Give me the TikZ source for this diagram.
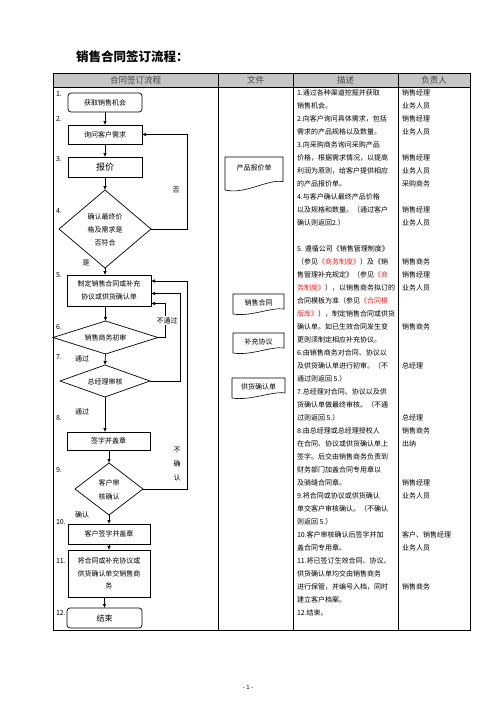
\documentclass[tikz,border=0pt]{standalone}
\usepackage{fontspec}
\setmainfont{Noto Sans CJK SC}
\usetikzlibrary{shapes.geometric,arrows.meta}
\definecolor{redtxt}{RGB}{228,45,45}
\definecolor{hdrfill}{RGB}{198,198,198}
\definecolor{hdrtxt}{RGB}{70,70,70}
\newcommand\docshape[4]{%
  \pgfmathsetmacro\dw{#3-#1}\pgfmathsetmacro\da{0.1*(#4-#2)}%
  \draw[docline] (#1,#2) -- (#3,#2) -- (#3,{#4-2.5*\da})
    .. controls ({#3-0.25*\dw},{#4-3.5*\da}) and ({#1+0.35*\dw},{#4+1.5*\da}) .. (#1,#4) -- cycle;}
\begin{document}
\begin{tikzpicture}[x=1pt,y=-1pt,
  every node/.style={inner sep=0pt, outer sep=0pt},
  ft/.style={font=\fontsize{7}{13}\selectfont},
  box/.style={draw, line width=0.7pt, ft, align=center},
  rbox/.style={box, rounded corners=3pt},
  dia/.style={draw, diamond, line width=0.7pt},
  arr/.style={line width=0.7pt, -{Latex[length=4pt,width=3.6pt]}},
  docline/.style={line width=0.6pt},
  tline/.style={line width=0.8pt},
  hdr/.style={font=\fontsize{8.5}{10}\selectfont, text=hdrtxt},
  num/.style={ft, anchor=west},
  desc/.style={ft, anchor=west},
]
\fill[white] (0,0) rectangle (496,702);
\useasboundingbox (0,0) rectangle (496,702);

% title
\node[anchor=west, font=\fontsize{12.5}{15}\selectfont\bfseries] (title) at (76,57) {销售合同签订流程：};

% table
\fill[hdrfill] (53,73) rectangle (470,87);
\draw[tline] (53,73) rectangle (470,630);
\draw[tline] (53,87) -- (470,87);
\draw[tline] (218,73) -- (218,630);
\draw[tline] (293,73) -- (293,630);
\draw[tline] (398,73) -- (398,630);
\node[hdr] (h1) at (135.5,80) {合同签订流程};
\node[hdr] (h2) at (255.5,80) {文件};
\node[hdr] (h3) at (345.5,80) {描述};
\node[hdr] (h4) at (434,80) {负责人};

% step numbers
\node[num] (s1) at (56,94) {1.};
\node[num] (s2) at (56,119) {2.};
\node[num] (s3) at (56,159) {3.};
\node[num] (s4) at (56,211) {4.};
\node[num] (s5) at (56,275) {5.};
\node[num] (s6) at (56,327) {6.};
\node[num] (s7) at (56,357) {7.};
\node[num] (s8) at (56,418) {8.};
\node[num] (s9) at (56,470) {9.};
\node[num] (s10) at (56,522) {10.};
\node[num] (s11) at (56,561) {11.};
\node[num] (s12) at (56,613) {12.};

% flow nodes
\node[rbox, minimum width=74pt, minimum height=19pt] (n1) at (105,102.5) {获取销售机会};
\node[box, minimum width=74pt, minimum height=19pt] (n2) at (105,134.5) {询问客户需求};
\node[box, minimum width=74pt, minimum height=20pt, font=\fontsize{9}{11}\selectfont] (n3) at (105,167) {报价};
\node[dia, minimum width=92pt, minimum height=78pt] (n4) at (105,229) {};
\node[ft, align=center] (t4) at (105,230) {确认最终价\\格及需求是\\否符合};
\node[box, minimum width=84pt, minimum height=31pt] (n5) at (109,290.5) {制定销售合同或补充\\协议或供货确认单};
\node[dia, minimum width=105pt, minimum height=33pt] (n6) at (105.5,337.5) {};
\node[ft] (t6) at (105.5,338) {销售商务初审};
\node[dia, minimum width=90pt, minimum height=32pt] (n7) at (105,381) {};
\node[ft] (t7) at (105,381.5) {总经理审核};
\node[box, minimum width=83pt, minimum height=18pt] (n8) at (108.5,441) {签字并盖章};
\node[dia, minimum width=68pt, minimum height=52pt] (n9) at (109,489) {};
\node[ft, align=center, font=\fontsize{7}{14}\selectfont] (t9) at (109,490) {客户审\\核确认};
\node[box, minimum width=82pt, minimum height=20pt] (n10) at (109,534) {客户签字并盖章};
\node[box, minimum width=82pt, minimum height=47pt, font=\fontsize{7}{12.5}\selectfont] (n11) at (109,573.5) {将合同或补充协议或\\供货确认单交销售商\\务};
\node[rbox, minimum width=75pt, minimum height=20pt, font=\fontsize{8}{10}\selectfont] (n12) at (104.5,618) {结束};

% main arrows
\draw[arr] (n1.south) -- (n2.north);
\draw[arr] (n2.south) -- (n3.north);
\draw[arr] (n3.south) -- (n4.north);
\draw[arr] (n4.south) -- (n4.south |- n5.north);
\draw[arr] (n6.north |- n5.south) -- (n6.north);
\draw[arr] (n6.south) -- (n7.north);
\draw[arr] (n7.south) -- (n7.south |- n8.north);
\draw[arr] (n9.north |- n8.south) -- (n9.north);
\draw[arr] (n9.south) -- (n10.north);
\draw[arr] (n10.south) -- (n11.north);
\draw[arr] (n12.north |- n11.south) -- (n12.north);

% loops
\coordinate (xa) at (187,0);
\coordinate (xb) at (180.5,0);
\coordinate (xc) at (165,0);
\coordinate (ya) at (0,281);
\coordinate (yb) at (0,293.5);
\coordinate (yc) at (0,303.5);
\draw[arr] (n4.east) -- (n4.east -| xa) -- (xa |- n2.east) -- (n2.east);
\draw[arr] (n9.east) -- (n9.east -| xa) -- (xa |- ya) -- (n5.east |- ya);
\draw[arr] (n7.east) -- (n7.east -| xb) -- (xb |- yb) -- (n5.east |- yb);
\draw[arr] (n6.east) -- (n6.east -| xc) -- (xc |- yc) -- (n5.east |- yc);

% labels
\node[ft] (lno) at (176,190) {否};
\node[ft] (lyes) at (86,263) {是};
\node[ft, fill=white, inner ysep=1.5pt] (lnp) at (167,320.5) {不通过};
\node[ft] (lp1) at (82,359) {通过};
\node[ft] (lp2) at (82,412) {通过};
\node[ft, align=center, font=\fontsize{7}{14}\selectfont] (lnc) at (177,464.5) {不\\确\\认};
\node[ft] (lc) at (82,515) {确认};

% documents column
\docshape{225}{157}{283}{190}
\node[ft] (d1) at (254,168) {产品报价单};
\docshape{233}{294}{284}{314}
\node[ft] (d2) at (258.5,303) {销售合同};
\docshape{233}{333}{284}{353}
\node[ft] (d3) at (258.5,342) {补充协议};
\docshape{232}{378}{285}{398}
\node[ft] (d4) at (258.5,387) {供货确认单};

% description column
\foreach \t [count=\i from 0] in {
1.通过各种渠道挖掘并获取,
销售机会。,
2.向客户询问具体需求，包括,
需求的产品规格以及数量。,
3.向采购商务询问采购产品,
价格，根据需求情况，以提高,
利润为原则，给客户提供相应,
的产品报价单。,
4.与客户确认最终产品价格,
以及规格和数量。（通过客户,
确认则返回2.）,
{},
5. 遵循公司《销售管理制度》,
{（参见\textcolor{redtxt}{《商务制度》}）及《销},
{售管理补充规定》（参见\textcolor{redtxt}{《商}},
{\textcolor{redtxt}{务制度》}），以销售商务拟订的},
{合同模板为准（参见\textcolor{redtxt}{《合同模}},
{\textcolor{redtxt}{版库》}），制定销售合同或供货},
确认单。如已生效合同发生变,
更则须制定相应补充协议。,
6.由销售商务对合同、协议以,
及供货确认单进行初审。（不,
通过则返回 5.）,
7.总经理对合同、协议以及供,
货确认单做最终审核。（不通,
过则返回 5.）,
8.由总经理或总经理授权人,
在合同、协议或供货确认单上,
签字。后交由销售商务负责到,
财务部门加盖合同专用章以,
及骑缝合同章。,
9.将合同或协议或供货确认,
单交客户审核确认。（不确认,
则返回 5.）,
10.客户审核确认后签字并加,
盖合同专用章。,
11.将已签订生效合同、协议、,
供货确认单均交由销售商务,
进行保管，并编号入档，同时,
建立客户档案。,
12.结束。}
  \node[desc] (dl\i) at (297,{93+13*\i}) {\t};

% responsible column
\foreach \k/\t in {0/销售经理,1/业务人员,2/销售经理,3/业务人员,5/销售经理,6/业务人员,7/采购商务,
  9/销售经理,10/业务人员,13/销售商务,14/销售经理,15/业务人员,18/销售商务,21/总经理,
  25/总经理,26/销售商务,27/出纳,30/销售经理,31/业务人员,34/客户、销售经理,35/业务人员,38/销售商务}
  \node[desc] (r\k) at (402,{93+13*\k}) {\t};

% footer
\node[font=\fontsize{6}{8}\selectfont] (pg) at (248,687) {- 1 -};
\end{tikzpicture}
\end{document}
